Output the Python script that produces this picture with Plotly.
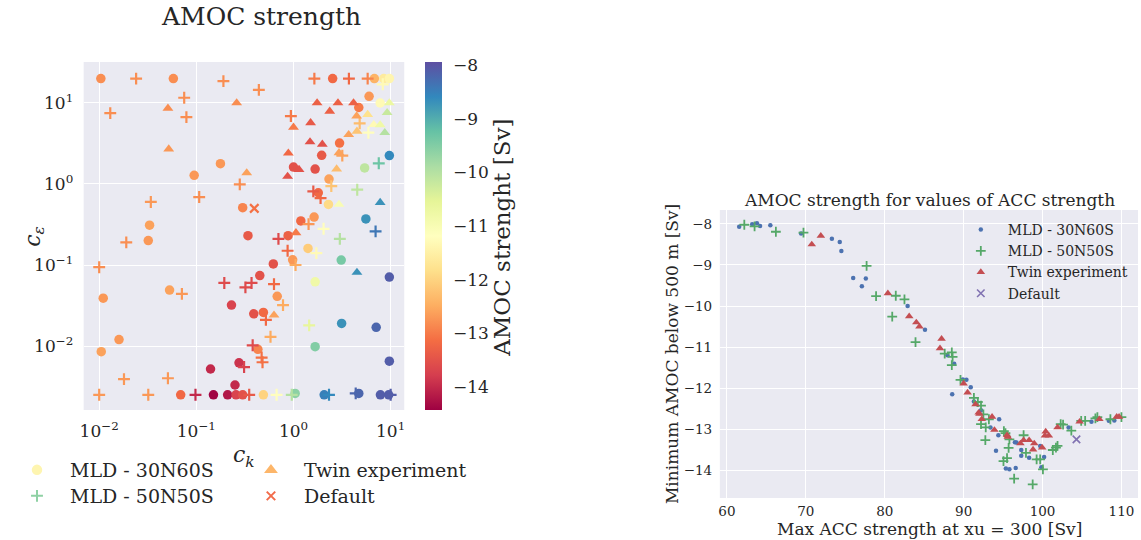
import plotly.graph_objects as go

W, H = 1141, 540

# ---------------- Left panel data (c_k, c_eps, AMOC strength) ----------------
ck_30 = [0.0104, 0.058, 2.53, 6.8, 8.5, 9.7, 6.0, 7.8, 4.7, 0.177, 0.095, 0.30, 0.033,
         2.98, 1.95, 9.7, 5.4, 1.0, 1.67, 2.32, 1.8, 2.29, 5.56, 1.19, 1.63, 0.34, 0.032,
         0.011, 0.053, 0.45, 0.23, 0.39, 0.016, 0.0105, 0.43, 0.275, 0.14, 0.25, 0.069,
         0.15, 0.21, 0.256, 0.3, 0.49, 0.88, 1.41, 0.98, 3.1, 0.62, 9.7, 1.67, 0.68, 0.49,
         3.13, 7.1, 1.67, 9.7, 1.04, 2.07, 4.7, 7.85, 9.55]
ce_30 = [20, 20, 20, 20, 20, 20, 12.1, 10, 8.8, 1.78, 1.28, 0.51, 0.31,
         3.2, 2.26, 2.24, 1.58, 1.62, 1.53, 1.15, 0.78, 0.56, 0.37, 0.35, 0.39, 0.23, 0.2,
         0.039, 0.049, 0.074, 0.032, 0.025, 0.012, 0.0085, 0.0091, 0.0062, 0.0052, 0.0033, 0.0025,
         0.0025, 0.0025, 0.0025, 0.0025, 0.0025, 0.23, 0.16, 0.116, 0.115, 0.103, 0.071, 0.062, 0.041, 0.026,
         0.019, 0.017, 0.0098, 0.0065, 0.0026, 0.0025, 0.0026, 0.0025, 0.0025]
amoc_30 = [-12.8, -12.8, -13.2, -12.4, -11.6, -11.4, -12.7, -11.3, -13.0, -12.7, -12.7, -12.9, -12.6,
           -13.1, -13.4, -8.6, -10.1, -13.5, -13.5, -12.6, -13.2, -11.9, -8.7, -13.2, -12.7, -13.4, -12.7,
           -12.7, -12.6, -13.5, -13.7, -13.5, -12.7, -12.6, -12.9, -13.9, -14.0, -14.0, -13.2,
           -14.4, -14.2, -13.7, -13.5, -12.0, -13.3, -12.1, -12.7, -9.4, -13.5, -8.1, -10.8, -12.7, -13.2,
           -8.7, -8.2, -9.5, -8.1, -9.6, -8.5, -8.2, -8.1, -8.1]

ck_50 = [0.024, 0.19, 0.44, 0.075, 0.013, 0.079, 0.28, 0.034, 0.107, 1.64, 3.72, 5.8, 8.3,
         0.94, 4.8, 5.9, 3.18, 7.55, 2.45, 4.53, 1.6, 1.9, 1.43, 2.04, 7.0, 0.019, 0.01,
         0.071, 0.194, 0.32, 0.37, 0.38, 0.31, 0.018, 0.051, 0.01, 0.032, 0.098, 0.35, 0.67,
         0.96, 2.32, 4.37, 10.0, 0.70, 3.0, 0.87, 1.72, 1.05, 0.63, 0.78, 0.52, 1.45, 0.58,
         0.47, 0.48]
ce_50 = [20, 18.6, 14.5, 11.6, 7.5, 6.7, 0.99, 0.6, 0.69, 20, 20, 20, 17,
         6.9, 5.6, 4.3, 2.24, 1.8, 0.94, 0.85, 0.81, 0.67, 0.32, 0.28, 0.26, 0.19, 0.094,
         0.044, 0.06, 0.053, 0.06, 0.0102, 0.0055, 0.0039, 0.004, 0.0025, 0.0025, 0.0025, 0.0025, 0.0025,
         0.0025, 0.0025, 0.0026, 0.0025, 0.21, 0.21, 0.15, 0.14, 0.1, 0.058, 0.032, 0.021, 0.018, 0.013,
         0.0072, 0.0063]
amoc_50 = [-12.8, -12.8, -12.8, -12.8, -12.8, -12.8, -12.8, -12.7, -12.8, -13.0, -13.2, -12.9, -11.3,
           -13.0, -12.3, -11.2, -12.6, -9.3, -12.2, -10.1, -13.4, -13.2, -12.7, -11.2, -8.4, -12.8, -12.8,
           -12.7, -13.6, -13.6, -13.6, -13.6, -13.7, -12.7, -12.7, -12.7, -12.7, -14.0, -13.4, -11.2,
           -10.0, -8.6, -8.2, -8.1, -13.6, -10.0, -13.2, -11.3, -12.5, -13.2, -12.5, -13.2, -10.6, -12.5,
           -13.1, -13.1]

ck_tw = [0.051, 0.26, 0.052, 0.33, 1.75, 2.87, 4.15, 2.36, 4.47, 5.8, 9.7, 9.2, 1.0, 1.5,
         6.7, 7.8, 8.7, 3.7, 4.5, 1.48, 1.98, 0.885, 2.94, 1.14, 0.87, 2.78, 2.94, 7.8, 1.06,
         4.5, 0.63]
ce_tw = [8.6, 10, 2.7, 1.37, 10, 10, 10, 7.9, 6.9, 7.2, 10, 7.6, 5.0, 5.7,
         5.4, 5.35, 4.3, 4.06, 4.47, 3.3, 3.09, 2.4, 2.43, 1.51, 1.24, 1.53, 0.56, 0.59, 0.25,
         0.081, 0.024]
amoc_tw = [-12.8, -12.8, -12.7, -12.6, -13.3, -13.3, -13.3, -13.3, -12.6, -11.8, -10.7, -10.2, -13.0, -13.4,
           -11.3, -10.8, -10.0, -12.6, -12.2, -13.5, -13.5, -13.2, -12.6, -13.5, -13.5, -12.3, -11.0, -8.7, -13.0,
           -8.7, -12.6]

ck_def = [0.395]
ce_def = [0.5]
amoc_def = [-13.1]

# ---------------- Right panel data (max ACC, min AMOC) ----------------
acc_30 = [61.55, 63.2, 63.8, 64.2, 65.5, 69.4, 73.3, 74.3, 74.5, 76.0, 77.1, 77.6, 82.9, 85.1,
          87.95, 88.8, 88.55, 89.9, 90.35, 90.9, 91.3, 92.2, 93.4, 94.5, 94.4, 94.1, 96.5, 96.7,
          97.3, 97.3, 98.3, 99.7, 100.2, 95.35, 95.8, 96.6, 99.85, 103.3, 106.2, 108.4, 109.1]
min_30 = [-8.07, -8.01, -7.98, -8.05, -8.03, -8.23, -8.36, -8.44, -8.66, -9.32, -9.52, -9.33, -10.0, -10.58,
          -11.2, -11.41, -12.15, -11.79, -11.8, -11.98, -12.33, -12.54, -12.96, -12.76, -13.15, -13.53, -13.32, -13.33,
          -13.51, -13.65, -13.7, -13.41, -13.68, -13.96, -13.98, -13.95, -13.93, -12.96, -12.82, -12.8, -12.79]

acc_50 = [62.2, 63.5, 66.2, 69.7, 77.7, 78.9, 81.4, 82.5, 80.95, 83.9, 87.6, 88.5, 88.6, 88.5,
          89.6, 91.3, 91.8, 92.2, 92.5, 92.2, 93.2, 92.8, 92.75, 95.1, 95.3, 95.8, 95.7, 97.6,
          97.9, 99.25, 99.7, 95.05, 95.5, 96.4, 100.05, 98.75, 101.3, 101.7, 101.9, 102.3, 102.6,
          103.65, 104.9, 105.4, 106.7, 106.95, 108.6, 110.0]
min_50 = [-8.02, -8.06, -8.19, -8.21, -9.02, -9.76, -9.75, -9.84, -10.26, -10.88, -11.16, -11.13, -11.24, -11.44,
          -11.8, -12.24, -12.34, -12.43, -12.64, -12.88, -12.76, -12.96, -13.27, -13.05, -13.1, -13.25, -13.46, -13.15,
          -13.58, -13.74, -13.74, -13.78, -13.71, -14.21, -13.98, -14.35, -13.51, -13.45, -13.41, -12.88, -12.89,
          -13.04, -12.8, -12.8, -12.74, -12.71, -12.76, -12.71]

acc_tw = [70.75, 71.9, 80.4, 83.1, 84.0, 84.4, 87.2, 87.0, 90.0, 90.5, 91.5, 91.9, 92.0, 92.3,
          93.6, 93.9, 95.5, 95.6, 97.2, 97.6, 98.3, 98.95, 98.8, 99.95, 100.4, 100.3, 100.8, 101.9,
          104.7, 107.2, 109.4, 109.7]
min_tw = [-8.5, -8.29, -9.69, -10.25, -10.4, -10.5, -10.8, -11.03, -11.89, -12.11, -12.4, -12.6, -12.63, -12.76,
          -12.7, -13.02, -13.15, -13.19, -13.35, -13.27, -13.27, -13.35, -13.5, -13.45, -13.06, -13.16, -13.16, -12.96,
          -12.82, -12.76, -12.7, -12.7]

acc_def = [104.3]
min_def = [-13.25]

labels = ["MLD - 30N60S", "MLD - 50N50S", "Twin experiment", "Default"]
cb_ticks = [-8, -9, -10, -11, -12, -13, -14]
log_ticks = [0.01, 0.1, 1, 10]
log_ticktext = ["10<sup>\u22122</sup>", "10<sup>\u22121</sup>", "10<sup>0</sup>", "10<sup>1</sup>"]

spectral = [[0.0, '#9e0142'], [0.1, '#d53e4f'], [0.2, '#f46d43'], [0.3, '#fdae61'],
            [0.4, '#fee08b'], [0.5, '#ffffbf'], [0.6, '#e6f598'], [0.7, '#abdda4'],
            [0.8, '#66c2a5'], [0.9, '#3288bd'], [1.0, '#5e4fa2']]

TXT = '#262626'
fig = go.Figure()

# left scatter
fig.add_trace(go.Scatter(x=ck_30, y=ce_30, mode='markers', showlegend=False, xaxis='x', yaxis='y',
                         marker=dict(symbol='circle', size=9.5, color=amoc_30, coloraxis='coloraxis',
                                     line=dict(width=0))))
fig.add_trace(go.Scatter(x=ck_50, y=ce_50, mode='markers', showlegend=False, xaxis='x', yaxis='y',
                         marker=dict(symbol='cross-thin', size=8.5, color=amoc_50, coloraxis='coloraxis',
                                     line=dict(width=2.2, color=amoc_50, coloraxis='coloraxis'))))
fig.add_trace(go.Scatter(x=ck_tw, y=ce_tw, mode='markers', showlegend=False, xaxis='x', yaxis='y',
                         marker=dict(symbol='triangle-up', size=9.5, color=amoc_tw, coloraxis='coloraxis',
                                     line=dict(width=0))))
fig.add_trace(go.Scatter(x=ck_def, y=ce_def, mode='markers', showlegend=False, xaxis='x', yaxis='y',
                         marker=dict(symbol='x-thin', size=8.5, color=amoc_def, coloraxis='coloraxis',
                                     line=dict(width=2.2, color=amoc_def, coloraxis='coloraxis'))))

# left legend entries (one legend box per entry, two columns)
leg_cols = ['#fef5b0', '#8fd1a4', '#fdb66a', '#f26b4a']
leg_syms = ['circle', 'cross-thin', 'triangle-up', 'x-thin']
leg_ids = ['legend', 'legend2', 'legend3', 'legend4']
for lab, col, sym, lid in zip(labels, leg_cols, leg_syms, leg_ids):
    fig.add_trace(go.Scatter(x=[None], y=[None], mode='markers', name=lab, legend=lid,
                             xaxis='x', yaxis='y',
                             marker=dict(symbol=sym, size=8.5, color=col, line=dict(width=2, color=col))))

# right scatter
deep = ['#4c72b0', '#55a868', '#c44e52', '#8172b2']
fig.add_trace(go.Scatter(x=acc_30, y=min_30, mode='markers', name=labels[0], legend='legend5',
                         xaxis='x2', yaxis='y2',
                         marker=dict(symbol='circle', size=4.5, color=deep[0], line=dict(width=0))))
fig.add_trace(go.Scatter(x=acc_50, y=min_50, mode='markers', name=labels[1], legend='legend5',
                         xaxis='x2', yaxis='y2',
                         marker=dict(symbol='cross-thin', size=7, color=deep[1],
                                     line=dict(width=1.8, color=deep[1]))))
fig.add_trace(go.Scatter(x=acc_tw, y=min_tw, mode='markers', name=labels[2], legend='legend5',
                         xaxis='x2', yaxis='y2',
                         marker=dict(symbol='triangle-up', size=7.5, color=deep[2], line=dict(width=0))))
fig.add_trace(go.Scatter(x=acc_def, y=min_def, mode='markers', name=labels[3], legend='legend5',
                         xaxis='x2', yaxis='y2',
                         marker=dict(symbol='x-thin', size=7.5, color=deep[3],
                                     line=dict(width=1.6, color=deep[3]))))

axis_common = dict(showgrid=True, gridcolor='white', gridwidth=1.3, zeroline=False, showline=False,
                   ticks='outside', tickcolor='rgba(0,0,0,0)')


def left_legend(xp, yp):
    return dict(x=xp / W, y=1 - yp / H, xanchor='left', yanchor='top', bgcolor='rgba(0,0,0,0)',
                font=dict(size=19), itemwidth=56)


fig.update_layout(
    width=W, height=H, margin=dict(l=0, r=0, t=0, b=0),
    paper_bgcolor='white', plot_bgcolor='#eaeaf2',
    font=dict(family='DejaVu Serif', color=TXT),
    xaxis=dict(axis_common, type='log', domain=[80 / W, 402 / W], range=[-2.16, 1.14],
               tickvals=log_ticks, ticktext=log_ticktext, ticklen=6, tickfont=dict(size=17),
               anchor='y'),
    yaxis=dict(axis_common, type='log', domain=[1 - 410 / H, 1 - 62 / H], range=[-2.79, 1.506],
               tickvals=log_ticks, ticktext=log_ticktext, ticklen=6, tickfont=dict(size=17),
               anchor='x'),
    xaxis2=dict(axis_common, domain=[719 / W, 1139 / W], range=[59.1, 112.1], tick0=60, dtick=10,
                ticklen=1, tickfont=dict(size=13.5), anchor='y2'),
    yaxis2=dict(axis_common, domain=[1 - 498 / H, 1 - 210 / H], range=[-14.68, -7.66], dtick=1,
                ticklen=4, tickfont=dict(size=13.5), anchor='x2'),
    coloraxis=dict(colorscale=spectral, cmin=-14.43, cmax=-7.94,
                   colorbar=dict(x=423 / W, xanchor='left', xpad=0, ypad=0,
                                 thickness=17, thicknessmode='pixels',
                                 len=348, lenmode='pixels', y=1 - 236 / H, yanchor='middle',
                                 outlinewidth=0, tickvals=cb_ticks, ticks='outside', ticklen=8,
                                 tickcolor='rgba(0,0,0,0)', tickfont=dict(size=17))),
    legend=left_legend(0, 451),
    legend2=left_legend(0, 477),
    legend3=left_legend(235, 451),
    legend4=left_legend(235, 477),
    legend5=dict(x=954 / W, y=1 - 214 / H, xanchor='left', yanchor='top', bgcolor='rgba(0,0,0,0)',
                 font=dict(size=14), itemwidth=44),
    annotations=[
        dict(text='AMOC strength', x=258 / W, y=1 - 16 / H, xref='paper', yref='paper',
             showarrow=False, font=dict(size=25), xanchor='center', yanchor='middle'),
        dict(text='AMOC strenght [Sv]', x=500 / W, y=1 - 238 / H, xref='paper', yref='paper',
             showarrow=False, font=dict(size=23), textangle=-90, xanchor='center', yanchor='middle'),
        dict(text='<i>c</i><sub><i>\u03b5</i></sub>', x=30 / W, y=1 - 236 / H, xref='paper', yref='paper',
             showarrow=False, font=dict(size=22), textangle=-90, xanchor='center', yanchor='middle'),
        dict(text='<i>c</i><sub><i>k</i></sub>', x=241 / W, y=1 - 456 / H, xref='paper', yref='paper',
             showarrow=False, font=dict(size=22), xanchor='center', yanchor='middle'),
        dict(text='AMOC strength for values of ACC strength', x=930 / W, y=1 - 200 / H,
             xref='paper', yref='paper', showarrow=False, font=dict(size=17),
             xanchor='center', yanchor='middle'),
        dict(text='Minimum AMOC below 500 m [Sv]', x=671 / W, y=1 - 354 / H, xref='paper', yref='paper',
             showarrow=False, font=dict(size=17), textangle=-90, xanchor='center', yanchor='middle'),
        dict(text='Max ACC strength at xu = 300 [Sv]', x=930 / W, y=1 - 529 / H, xref='paper',
             yref='paper', showarrow=False, font=dict(size=17), xanchor='center', yanchor='middle'),
    ],
)

fig.write_html("out.html")
